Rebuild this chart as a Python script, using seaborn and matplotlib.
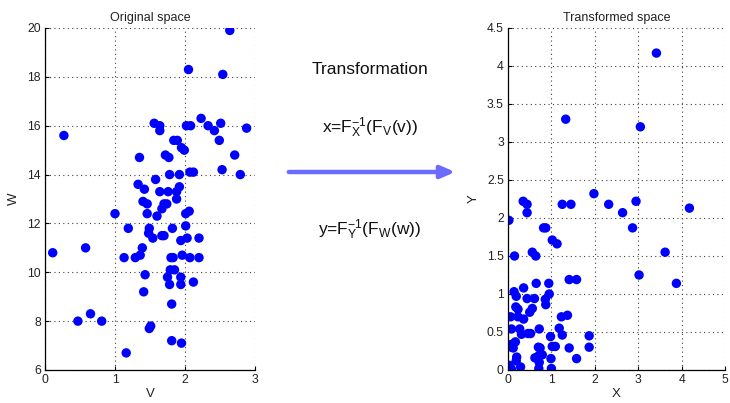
import numpy as np
import pandas as pd
import matplotlib
matplotlib.use("Agg")
import matplotlib.pyplot as plt
import seaborn as sns

# Original sample (v, w)
v_vals = [2.64, 2.05, 2.54, 0.27, 1.56, 1.64, 1.64, 2.02, 2.08, 2.23, 2.33, 2.42, 2.51, 2.49, 2.88,
          1.84, 1.89, 1.95, 1.99, 1.35, 1.72, 1.77, 2.71, 1.78, 1.92, 2.07, 2.12, 2.53, 2.79,
          1.33, 1.42, 1.58, 1.64, 1.76, 1.88, 1.92, 1.88, 1.40, 1.46, 1.70, 1.74, 1.67,
          1.00, 1.46, 1.60, 2.01, 2.06, 1.19, 1.49, 1.48, 1.54, 1.67, 1.70, 1.82, 2.01, 2.03,
          1.94, 2.20, 0.11, 0.58, 1.39, 1.13, 1.29, 1.36, 1.80, 1.83, 1.96, 2.07, 2.20,
          1.79, 1.85, 1.43, 1.75, 1.94, 2.12, 1.78, 1.94, 1.41, 1.81, 0.47, 0.65, 0.81,
          1.49, 1.51, 1.81, 1.95, 1.16]
w_vals = [19.9, 18.3, 18.1, 15.6, 16.1, 16.0, 15.8, 16.0, 16.0, 16.3, 16.0, 15.8, 16.1, 15.4, 15.9,
          15.4, 15.4, 15.1, 15.0, 14.7, 14.8, 14.7, 14.8, 14.0, 14.0, 14.1, 14.1, 14.2, 14.0,
          13.6, 13.4, 13.8, 13.3, 13.3, 13.3, 13.5, 13.0, 12.9, 12.8, 12.8, 12.8, 12.6,
          12.4, 12.4, 12.3, 12.4, 12.5, 11.8, 11.8, 11.6, 11.4, 11.5, 11.5, 11.8, 11.9, 11.4,
          11.3, 11.4, 10.8, 11.0, 11.0, 10.6, 10.6, 10.7, 10.6, 10.6, 10.7, 10.6, 10.6,
          10.1, 10.1, 9.9, 9.8, 9.8, 9.6, 9.5, 9.5, 9.2, 8.7, 8.0, 8.3, 8.0,
          7.7, 7.8, 7.2, 7.1, 6.7]

# Transformed sample (x, y)
x_vals = [3.42, 1.33, 3.05, 1.98,
          0.35, 0.44, 0.44, 1.25, 1.45, 2.32, 2.64, 2.95, 4.18,
          0.02, 0.82, 0.87, 2.87, 1.02, 1.13, 3.62, 0.15, 0.56, 0.64,
          3.02, 1.41, 1.58, 3.88, 0.36, 0.65, 0.94,
          0.14, 0.19, 0.44, 0.61, 0.86, 0.95, 0.87,
          0.18, 0.23, 0.56, 0.50, 0.36, 0.06, 0.23, 1.23, 1.37,
          0.08, 0.27, 0.72, 1.18, 0.31, 0.46, 0.52, 0.98, 1.25, 1.87,
          0.02, 0.10, 0.17, 0.08, 0.12,
          0.70, 0.74, 1.02, 1.09, 1.41, 1.87,
          0.20, 0.19, 0.62, 0.71, 0.79, 0.72, 0.99, 1.58,
          0.04, 0.08, 0.29, 0.71, 1.00]
y_vals = [4.17, 3.30, 3.20, 2.32,
          2.22, 2.18, 2.07, 2.18, 2.18, 2.18, 2.07, 2.22, 2.13,
          1.97, 1.87, 1.87, 1.87, 1.71, 1.66, 1.55, 1.50, 1.55, 1.50,
          1.25, 1.19, 1.19, 1.14, 1.08, 1.14, 1.14,
          1.03, 0.97, 0.94, 0.94, 0.93, 1.00, 0.86,
          0.83, 0.80, 0.81, 0.76, 0.67, 0.70, 0.70, 0.70, 0.72,
          0.54, 0.54, 0.54, 0.55, 0.47, 0.48, 0.48, 0.44, 0.46, 0.45,
          0.33, 0.34, 0.37, 0.30, 0.29,
          0.30, 0.29, 0.31, 0.31, 0.29, 0.30,
          0.17, 0.12, 0.16, 0.19, 0.20, 0.10, 0.15, 0.15,
          0.06, 0.01, 0.04, 0.02, 0.02]

left_xticks = [0, 1, 2, 3]
left_yticks = [6, 8, 10, 12, 14, 16, 18, 20]
right_xticks = [0, 1, 2, 3, 4, 5]
right_yticks = [0, 0.5, 1, 1.5, 2, 2.5, 3, 3.5, 4, 4.5]
right_ytick_labels = ["0", "0.5", "1", "1.5", "2", "2.5", "3", "3.5", "4", "4.5"]

orig = pd.DataFrame({"V": v_vals, "W": w_vals})
trans = pd.DataFrame({"X": x_vals, "Y": y_vals})

sns.set_theme(style="white")
plt.rcParams["font.family"] = ["Liberation Sans", "DejaVu Sans"]
plt.rcParams["mathtext.default"] = "regular"

fig = plt.figure(figsize=(7.30, 4.03), dpi=100)
ax1 = fig.add_axes([45 / 730, 1 - 370 / 403, 210 / 730, 342 / 403])
ax2 = fig.add_axes([508 / 730, 1 - 370 / 403, 217 / 730, 342 / 403])

dot_kw = dict(color="#0000ff", s=46, edgecolor="none", linewidth=0, legend=False)
sns.scatterplot(data=orig, x="V", y="W", ax=ax1, **dot_kw)
sns.scatterplot(data=trans, x="X", y="Y", ax=ax2, **dot_kw)


def style_axis(ax, xticks, yticks, title, xlab, ylab, ylabels=None):
    ax.set_xlim(xticks[0], xticks[-1])
    ax.set_ylim(yticks[0], yticks[-1])
    ax.set_xticks(xticks)
    ax.set_yticks(yticks)
    if ylabels is not None:
        ax.set_yticklabels(ylabels)
    ax.grid(True, color="#404040", linestyle=(0, (1, 3)), linewidth=0.8)
    ax.set_axisbelow(True)
    for side in ("top", "right"):
        ax.spines[side].set_visible(False)
    for side in ("left", "bottom"):
        ax.spines[side].set_color("black")
        ax.spines[side].set_linewidth(0.9)
    ax.tick_params(direction="in", length=3, width=0.8, colors="black",
                   labelsize=8.7, labelcolor="#222222", pad=3,
                   left=True, bottom=True)
    ax.set_title(title, fontsize=9, color="#222222", pad=5)
    ax.set_xlabel(xlab, fontsize=9.5, color="#222222", labelpad=1)
    ax.set_ylabel(ylab, fontsize=9.5, color="#222222", labelpad=5)


style_axis(ax1, left_xticks, left_yticks, "Original space", "V", "W")
style_axis(ax2, right_xticks, right_yticks, "Transformed space", "X", "Y",
           right_ytick_labels)

# Middle panel: transformation formulas and arrow
mid_kw = dict(ha="center", va="center", fontsize=12.5, color="#111111")
fig.text(370 / 730, 1 - 70 / 403, "Transformation", **mid_kw)
fig.text(370 / 730, 1 - 128 / 403, r"x=F$_X^{-1}$(F$_V$(v))", **mid_kw)
fig.text(370 / 730, 1 - 230 / 403, r"y=F$_Y^{-1}$(F$_W$(w))", **mid_kw)
fig.patches.append(matplotlib.patches.FancyArrowPatch(
    (286 / 730, 1 - 172 / 403), (458 / 730, 1 - 172 / 403),
    transform=fig.transFigure, arrowstyle="-|>,head_length=6,head_width=2.6",
    color="#6b6bff", linewidth=3.2, mutation_scale=1.4))

fig.savefig("out.png", dpi=100)
